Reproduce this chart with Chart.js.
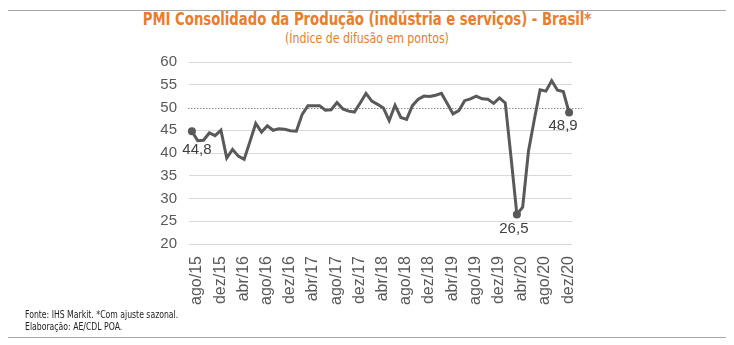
<!DOCTYPE html>
<html>
<head>
<meta charset="utf-8">
<script src="https://cdn.jsdelivr.net/npm/chart.js@4.4.1/dist/chart.umd.min.js"></script>
<style>
    html, body { margin: 0; padding: 0; background: #fff; }
    .wrap { position: relative; width: 734px; height: 345px; overflow: hidden; }
    .rule { position: absolute; left: 8px; width: 718px; height: 1px; background: #a6a6a6; }
    .title { position: absolute; left: 0; width: 734px; text-align: center; color: #ea7d2c;
             font-family: "Liberation Sans Narrow", "DejaVu Sans Condensed", "Liberation Sans", sans-serif;
             transform-origin: 367px 0; }
    .title.main { top: 9px; font-size: 17px; font-weight: bold; transform: scaleX(0.865); }
    .title.sub { top: 30px; font-size: 14px; transform: scaleX(0.87); }
    .footer { position: absolute; left: 25px; top: 309px; font-size: 10px; line-height: 12px; color: #222;
              font-family: "Liberation Sans Narrow", "DejaVu Sans Condensed", "Liberation Sans", sans-serif;
              transform-origin: 0 0; transform: scaleX(0.86); white-space: nowrap; }
    canvas { position: absolute; left: 0; top: 0; }
</style>
</head>
<body>
<div class="wrap">
    <div class="rule" style="top: 10px;"></div>
    <div class="title main">PMI Consolidado da Produção (indústria e serviços) - Brasil*</div>
    <div class="title sub">(Índice de difusão em pontos)</div>
    <canvas id="pmiChart" width="734" height="345"></canvas>
    <div class="footer">Fonte: IHS Markit. *Com ajuste sazonal.<br>Elaboração: AE/CDL POA.</div>
    <div class="rule" style="top: 337px;"></div>
</div>
<script>
// months on the x axis (ago/15 .. jan/21)
const months = [
    'ago/15', 'set/15', 'out/15', 'nov/15', 'dez/15',
    'jan/16', 'fev/16', 'mar/16', 'abr/16', 'mai/16', 'jun/16', 'jul/16', 'ago/16', 'set/16', 'out/16', 'nov/16', 'dez/16',
    'jan/17', 'fev/17', 'mar/17', 'abr/17', 'mai/17', 'jun/17', 'jul/17', 'ago/17', 'set/17', 'out/17', 'nov/17', 'dez/17',
    'jan/18', 'fev/18', 'mar/18', 'abr/18', 'mai/18', 'jun/18', 'jul/18', 'ago/18', 'set/18', 'out/18', 'nov/18', 'dez/18',
    'jan/19', 'fev/19', 'mar/19', 'abr/19', 'mai/19', 'jun/19', 'jul/19', 'ago/19', 'set/19', 'out/19', 'nov/19', 'dez/19',
    'jan/20', 'fev/20', 'mar/20', 'abr/20', 'mai/20', 'jun/20', 'jul/20', 'ago/20', 'set/20', 'out/20', 'nov/20', 'dez/20',
    'jan/21'
];

// labels actually printed under the axis
const tickLabels = [
    'ago/15', 'dez/15', 'abr/16', 'ago/16', 'dez/16', 'abr/17', 'ago/17', 'dez/17', 'abr/18',
    'ago/18', 'dez/18', 'abr/19', 'ago/19', 'dez/19', 'abr/20', 'ago/20', 'dez/20'
];

// PMI composto
const pmi = [
    44.8, 42.7, 42.8, 44.4, 43.8,
    45.0, 38.9, 40.8, 39.3, 38.6, 42.5, 46.5, 44.6, 46.0, 45.0, 45.3, 45.2,
    44.9, 44.8, 48.5, 50.4, 50.4, 50.4, 49.4, 49.5, 51.1, 49.7, 49.2, 49.0,
    51.0, 53.1, 51.4, 50.7, 49.9, 47.1, 50.5, 47.8, 47.4, 50.4, 51.8, 52.5,
    52.4, 52.7, 53.1, 50.9, 48.6, 49.3, 51.5, 51.9, 52.5, 51.9, 51.8, 50.9,
    52.1, 51.0, 39.0, 26.5, 28.1, 40.4, 47.3, 53.9, 53.6, 55.9, 53.8, 53.5,
    48.9
];

// points that get a marker and a value label
const highlighted = ['ago/15', 'abr/20', 'jan/21'];

const yTicks = [20, 25, 30, 35, 40, 45, 50, 55, 60];
const neutralLine = 50;

const lineColor = '#595959';
const textColor = '#595959';

// value labels under the marked points (comma as decimal mark)
const valueLabels = {
    id: 'valueLabels',
    afterDatasetsDraw(chart) {
        const ctx = chart.ctx;
        const meta = chart.getDatasetMeta(0);
        const nudge = { 'ago/15': [5, 19], 'abr/20': [-3, 14], 'jan/21': [-6, 13] };
        ctx.save();
        ctx.fillStyle = '#404040';
        ctx.font = '15px "Liberation Sans", Arial, sans-serif';
        ctx.textAlign = 'center';
        ctx.textBaseline = 'middle';
        highlighted.forEach(m => {
            const i = months.indexOf(m);
            const pt = meta.data[i];
            const d = nudge[m];
            ctx.fillText(pmi[i].toFixed(1).replace('.', ','), pt.x + d[0], pt.y + d[1]);
        });
        ctx.restore();
    }
};

// dotted line at 50, a bit longer than the gridlines
const neutral = {
    id: 'neutral',
    beforeDatasetsDraw(chart) {
        const ctx = chart.ctx;
        const y = chart.scales.y.getPixelForValue(neutralLine);
        const area = chart.chartArea;
        ctx.save();
        ctx.strokeStyle = '#8c8c8c';
        ctx.lineWidth = 1;
        ctx.setLineDash([1.5, 1.5]);
        ctx.beginPath();
        ctx.moveTo(area.left - 1, Math.round(y) + 0.5);
        ctx.lineTo(area.right + 10, Math.round(y) + 0.5);
        ctx.stroke();
        ctx.restore();
    }
};

const ctx = document.getElementById('pmiChart').getContext('2d');
new Chart(ctx, {
    type: 'line',
    data: {
        labels: months,
        datasets: [{
            data: pmi,
            borderColor: lineColor,
            backgroundColor: lineColor,
            borderWidth: 3,
            tension: 0,
            pointRadius: c => highlighted.includes(months[c.dataIndex]) ? 4 : 0,
            pointBackgroundColor: lineColor,
            pointBorderWidth: 0
        }]
    },
    options: {
        responsive: false,
        animation: false,
        events: [],
        layout: {
            padding: { left: 0, right: 162, top: 62, bottom: 30 }
        },
        plugins: {
            legend: { display: false },
            tooltip: { enabled: false }
        },
        scales: {
            x: {
                type: 'category',
                offset: true,
                grid: { display: false },
                border: { display: false },
                afterFit: scale => { scale.height = 71; },
                ticks: {
                    autoSkip: false,
                    minRotation: 90,
                    maxRotation: 90,
                    padding: 4,
                    labelOffset: 5,
                    color: textColor,
                    font: { family: '"Liberation Sans", Arial, sans-serif', size: 16 },
                    callback: (v, i) => tickLabels.includes(months[i]) ? months[i] : ''
                }
            },
            y: {
                min: 20,
                max: 60,
                afterFit: scale => { scale.width = 189; },
                afterBuildTicks: scale => { scale.ticks = yTicks.map(v => ({ value: v })); },
                border: { display: false },
                grid: {
                    drawTicks: false,
                    color: c => c.tick && c.tick.value === neutralLine ? 'rgba(0,0,0,0)' : '#d9d9d9',
                    lineWidth: 1
                },
                ticks: {
                    padding: 12,
                    color: textColor,
                    font: { family: '"Liberation Sans", Arial, sans-serif', size: 15 }
                }
            }
        }
    },
    plugins: [neutral, valueLabels]
});
</script>
</body>
</html>
